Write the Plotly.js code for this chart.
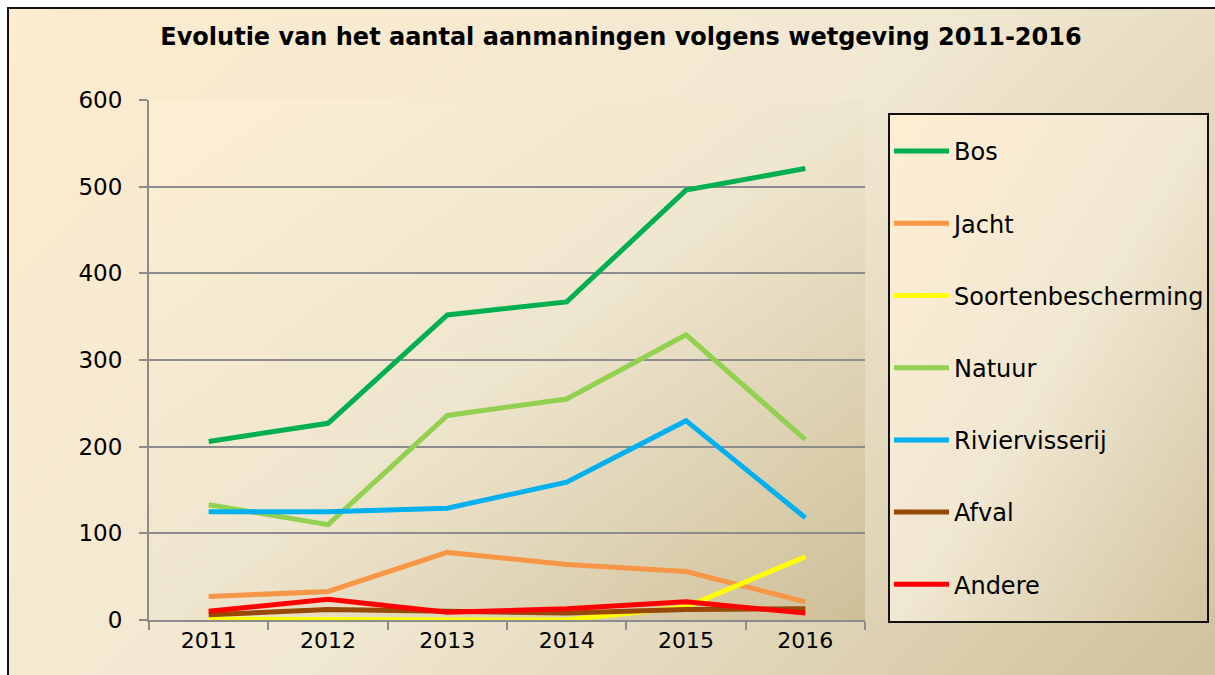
<!DOCTYPE html>
<html>
<head>
<meta charset="utf-8">
<script src="https://cdn.plot.ly/plotly-3.0.1.min.js"></script>
<style>
  html, body { margin: 0; padding: 0; background: #ffffff; }
  #wrap { position: relative; width: 1215px; height: 675px; overflow: hidden; }
  #bg { position: absolute; left: 7px; top: 7px; width: 1215px; height: 675px;
        border-left: 2px solid #111; border-top: 2px solid #111;
        background: linear-gradient(135deg, #fdecce 0%, #f1e8d2 50%, #cfc19b 100%); }
  #chart { position: absolute; left: 0; top: 0; width: 1215px; height: 675px; }
</style>
</head>
<body>
<div id="wrap">
  <div id="bg"></div>
  <div id="chart"></div>
</div>
<script>
const years = ['2011', '2012', '2013', '2014', '2015', '2016'];
const seriesNames = ['Bos', 'Jacht', 'Soortenbescherming', 'Natuur', 'Riviervisserij', 'Afval', 'Andere'];
const bos = [206, 227, 352, 367, 496, 521];
const jacht = [27, 33, 78, 64, 56, 21];
const soortenbescherming = [1, 0, 0, 0, 15, 73];
const natuur = [133, 110, 236, 255, 329, 208];
const riviervisserij = [125, 125, 129, 159, 230, 118];
const afval = [6, 12, 10, 8, 12, 13];
const andere = [10, 24, 9, 13, 21, 8];
const seriesValues = [bos, jacht, soortenbescherming, natuur, riviervisserij, afval, andere];
const seriesColors = ['#00b050', '#f79646', '#ffff00', '#92d050', '#00b0f0', '#984807', '#ff0000'];
const titleText = 'Evolutie van het aantal aanmaningen volgens wetgeving 2011-2016';

function gradUri(c1, c2, c3) {
  const svg = '<svg xmlns="http://www.w3.org/2000/svg" width="100" height="100" preserveAspectRatio="none">' +
    '<defs><linearGradient id="g" x1="0" y1="0" x2="1" y2="1">' +
    '<stop offset="0" stop-color="' + c1 + '"/><stop offset="0.5" stop-color="' + c2 + '"/>' +
    '<stop offset="1" stop-color="' + c3 + '"/></linearGradient></defs>' +
    '<rect width="100" height="100" fill="url(#g)"/></svg>';
  return 'data:image/svg+xml;base64,' + btoa(svg);
}

const traces = seriesNames.map((name, i) => ({
  type: 'scatter',
  mode: 'lines',
  name: name,
  x: years,
  y: seriesValues[i],
  legendgroup: 'g' + i,
  line: { color: seriesColors[i], width: 5 },
  hoverinfo: 'x+y+name'
}));

const font = "'DejaVu Sans', Verdana, sans-serif";
const L = 149, R = 865, T = 100, B = 620, W = 1215, H = 675;
const px = v => (v - L) / (R - L);
const py = v => (B - v) / (B - T);

const layout = {
  width: W, height: H,
  paper_bgcolor: 'rgba(0,0,0,0)',
  plot_bgcolor: 'rgba(0,0,0,0)',
  margin: { l: L, r: W - R, t: T, b: H - B, pad: 0, autoexpand: false },
  font: { family: font, size: 22, color: '#000' },
  title: {
    text: '<b>' + titleText + '</b>',
    font: { family: font, size: 24, color: '#000' },
    xref: 'container', yref: 'container',
    x: 621 / W, xanchor: 'center',
    y: 1 - 37 / H, yanchor: 'middle'
  },
  xaxis: {
    type: 'category',
    range: [-0.5, 5.5],
    tickson: 'boundaries',
    ticks: 'outside', ticklen: 8, tickwidth: 2, tickcolor: '#8c8c8c',
    showline: true, linecolor: '#8c8c8c', linewidth: 2,
    showgrid: false, zeroline: false,
    tickfont: { family: font, size: 22, color: '#000' },
    automargin: false
  },
  yaxis: {
    range: [0, 600], dtick: 100, tick0: 0,
    ticks: 'outside', ticklen: 8, tickwidth: 2, tickcolor: '#8c8c8c',
    showline: true, linecolor: '#8c8c8c', linewidth: 2,
    showgrid: true, gridcolor: '#8c8c8c', gridwidth: 2,
    zeroline: false,
    tickfont: { family: font, size: 23, color: '#000' },
    ticklabelstandoff: 12,
    automargin: false
  },
  legend: {
    x: px(889), xanchor: 'left',
    y: py(129), yanchor: 'top',
    bgcolor: 'rgba(0,0,0,0)',
    borderwidth: 0,
    font: { family: font, size: 24, color: '#000' },
    tracegroupgap: 38,
    itemwidth: 55,
    traceorder: 'grouped'
  },
  images: [
    { source: gradUri('#fdefd3', '#efe6cf', '#cdbf98'), xref: 'paper', yref: 'paper',
      x: 0, y: 1, sizex: 1, sizey: 1, sizing: 'stretch', xanchor: 'left', yanchor: 'top', layer: 'below' },
    { source: gradUri('#feeed2', '#f1e8d2', '#d2c4a0'), xref: 'paper', yref: 'paper',
      x: px(889), y: py(114),
      sizex: px(1208) - px(889), sizey: py(114) - py(622),
      sizing: 'stretch', xanchor: 'left', yanchor: 'top', layer: 'below' }
  ],
  shapes: [
    { type: 'rect', xref: 'paper', yref: 'paper',
      x0: px(889), x1: px(1208), y0: py(622), y1: py(114),
      line: { color: '#111', width: 2 }, fillcolor: 'rgba(0,0,0,0)', layer: 'above' }
  ],
  showlegend: true
};

Plotly.newPlot('chart', traces, layout, { displayModeBar: false, staticPlot: false });
</script>
</body>
</html>
